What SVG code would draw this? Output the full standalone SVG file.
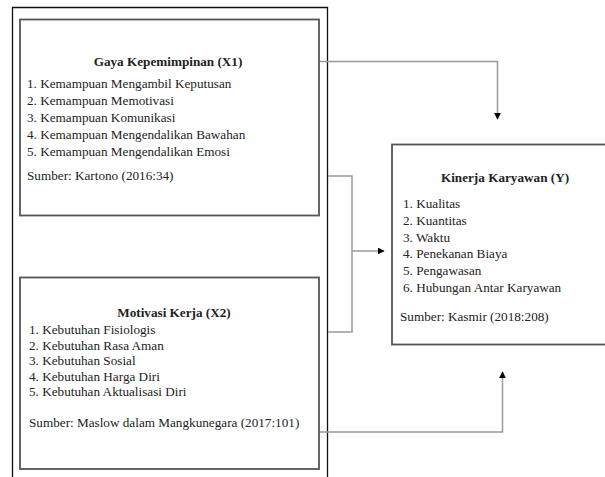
<svg xmlns="http://www.w3.org/2000/svg" width="605" height="477" viewBox="0 0 605 477">
<defs>
<style>
.t{font-family:"Liberation Serif","Times New Roman",serif;font-size:13.2px;fill:#222}
.b{font-weight:bold;text-anchor:middle}
.box{fill:#fff;stroke:#555;stroke-width:1.8}
.frame{fill:none;stroke:#111;stroke-width:1.3}
.con{fill:none;stroke:#999;stroke-width:1.5}
</style>
<marker id="ah" viewBox="0 0 10 10" refX="9" refY="5" markerWidth="7" markerHeight="7" markerUnits="userSpaceOnUse" orient="auto">
<path d="M0,0 L10,5 L0,10 Z" fill="#000"/>
</marker>
</defs>
<rect width="605" height="477" fill="#fff"/>
<path class="frame" d="M12.5,477 V7.5 H327.5 V477"/>
<g id="x1">
<rect class="box" x="20" y="19.5" width="299" height="196"/>
<text class="t b" x="168" y="66">Gaya Kepemimpinan (X1)</text>
<text class="t" x="27" y="88">1. Kemampuan Mengambil Keputusan</text>
<text class="t" x="27" y="105">2. Kemampuan Memotivasi</text>
<text class="t" x="27" y="122">3. Kemampuan Komunikasi</text>
<text class="t" x="27" y="139">4. Kemampuan Mengendalikan  Bawahan</text>
<text class="t" x="27" y="156">5. Kemampuan Mengendalikan  Emosi</text>
<text class="t" x="27" y="180">Sumber: Kartono (2016:34)</text>
</g>
<g id="x2">
<rect class="box" x="20" y="277.5" width="299" height="191.5"/>
<text class="t b" x="174" y="317">Motivasi Kerja (X2)</text>
<text class="t" x="29" y="334">1. Kebutuhan Fisiologis</text>
<text class="t" x="29" y="349.5">2. Kebutuhan Rasa Aman</text>
<text class="t" x="29" y="365">3. Kebutuhan Sosial</text>
<text class="t" x="29" y="380.5">4. Kebutuhan Harga Diri</text>
<text class="t" x="29" y="396">5. Kebutuhan Aktualisasi  Diri</text>
<text class="t" x="29" y="427">Sumber: Maslow dalam Mangkunegara (2017:101)</text>
</g>
<g id="y">
<rect class="box" x="392" y="144.5" width="220" height="200"/>
<text class="t b" x="505" y="182">Kinerja Karyawan (Y)</text>
<text class="t" x="403" y="208">1. Kualitas</text>
<text class="t" x="403" y="225">2. Kuantitas</text>
<text class="t" x="403" y="242">3. Waktu</text>
<text class="t" x="403" y="258">4. Penekanan Biaya</text>
<text class="t" x="403" y="275">5. Pengawasan</text>
<text class="t" x="403" y="292">6. Hubungan Antar Karyawan</text>
<text class="t" x="400" y="321">Sumber: Kasmir (2018:208)</text>
</g>
<g id="connectors">
<path class="con" d="M320,61.5 H497.5 V119" marker-end="url(#ah)"/>
<path class="con" d="M328,176 H352 V332 H328"/>
<path class="con" d="M352,251 H384" marker-end="url(#ah)"/>
<path class="con" d="M320,432 H502.5 V372" marker-end="url(#ah)"/>
</g>
</svg>
